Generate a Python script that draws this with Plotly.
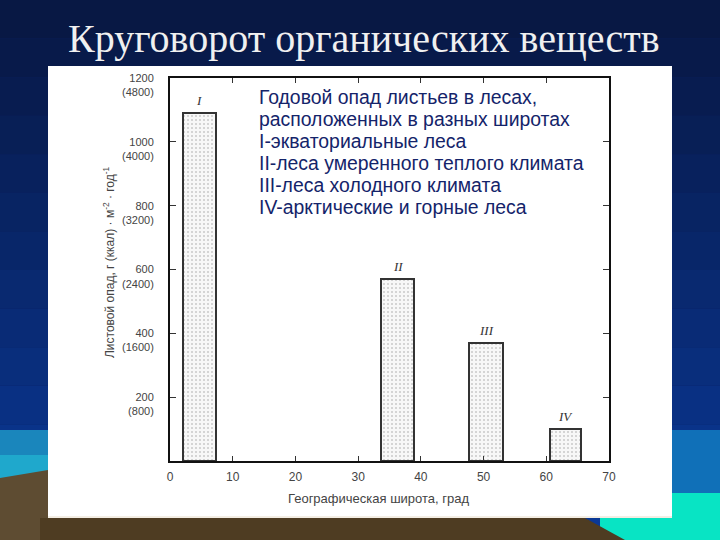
import plotly.graph_objects as go

# ---- data ----
zones = ["I", "II", "III", "IV"]
latitude_center = [4.7, 36.3, 50.4, 63.1]
litterfall = [1090, 570, 370, 100]
bar_width = [5.2, 5.2, 5.3, 5.0]

y_tickvals = [200, 400, 600, 800, 1000, 1200]
y_ticktext = [" <br>200<br>(800)", " <br>400<br>(1600)", " <br>600<br>(2400)",
              " <br>800<br>(3200)", " <br>1000<br>(4000)", " <br>1200<br>(4800)"]
x_tickvals = [0, 10, 20, 30, 40, 50, 60, 70]

title_text = "Круговорот органических веществ"
legend_lines = [
    "Годовой опад листьев в лесах,",
    "расположенных в разных широтах",
    "I-экваториальные леса",
    "II-леса умеренного теплого климата",
    "III-леса холодного климата",
    "IV-арктические и горные леса",
]
y_title = "Листовой опад, г (ккал) · м<sup>-2</sup> · год<sup>-1</sup>"
x_title = "Географическая широта, град"

W, H = 720, 540
def px(x):
    return x / W
def py(y):
    return 1 - y / H

fig = go.Figure()
fig.add_trace(go.Bar(
    x=latitude_center, y=litterfall, width=bar_width,
    marker=dict(color="#f4f4f4",
                line=dict(color="#333333", width=2),
                pattern=dict(shape=".", fgcolor="#999999", bgcolor="#f8f8f8",
                             size=4, solidity=0.2)),
    showlegend=False, hoverinfo="skip",
))

shapes = []
top_c = (8, 24, 68)
bot_c = (10, 56, 150)
n = 14
for i in range(n):
    t = i / (n - 1)
    c = tuple(int(top_c[k] + (bot_c[k] - top_c[k]) * t) for k in range(3))
    shapes.append(dict(type="rect", xref="paper", yref="paper", layer="below",
                       x0=0, x1=1, y0=py(H * (i + 1) / n), y1=py(H * i / n),
                       fillcolor="rgb(%d,%d,%d)" % c, line=dict(width=0)))
shapes.append(dict(type="rect", xref="paper", yref="paper", layer="below",
                   x0=0, x1=px(60), y0=py(480), y1=py(430),
                   fillcolor="#1a86bc", line=dict(width=0)))
shapes.append(dict(type="rect", xref="paper", yref="paper", layer="below",
                   x0=0, x1=px(60), y0=py(480), y1=py(455),
                   fillcolor="#1fa8cc", line=dict(width=0)))
shapes.append(dict(type="path", xref="paper", yref="paper", layer="below",
                   path="M 0 %f L %f %f L %f 0 L 0 0 Z" % (py(478), px(60), py(468), px(60)),
                   fillcolor="#5e4c32", line=dict(width=0)))
shapes.append(dict(type="rect", xref="paper", yref="paper", layer="below",
                   x0=px(600), x1=1, y0=0, y1=py(493),
                   fillcolor="#08e4c4", line=dict(width=0)))
shapes.append(dict(type="rect", xref="paper", yref="paper", layer="below",
                   x0=px(600), x1=1, y0=py(493), y1=py(430),
                   fillcolor="#1070b8", line=dict(width=0)))
shapes.append(dict(type="path", xref="paper", yref="paper", layer="below",
                   path="M %f 0 L %f %f L %f %f L %f 0 Z" % (px(40), px(40), py(518), px(585), py(518), px(625)),
                   fillcolor="#4e3c22", line=dict(width=0)))
shapes.append(dict(type="rect", xref="paper", yref="paper", layer="below",
                   x0=px(48), x1=px(672), y0=py(518), y1=py(66),
                   fillcolor="#ffffff", line=dict(width=0)))
shapes.append(dict(type="line", xref="paper", yref="paper", layer="below",
                   x0=px(48), x1=px(672), y0=py(517), y1=py(517),
                   line=dict(color="#e8dcc8", width=1)))

annotations = []
annotations.append(dict(text=title_text, xref="paper", yref="paper",
                        x=px(364), y=py(38), xanchor="center", yanchor="middle", showarrow=False,
                        font=dict(family="Liberation Serif", size=40, color="#f0f0f0")))
line_y = [97, 119, 141, 163, 185, 207]
for ln, yy in zip(legend_lines, line_y):
    annotations.append(dict(text=ln, xref="paper", yref="paper",
                            x=px(257), y=py(yy), xanchor="left", yanchor="middle",
                            showarrow=False,
                            font=dict(family="Liberation Sans", size=19.4, color="#14246a")))
annotations.append(dict(text=y_title, xref="paper", yref="paper", textangle=-90,
                        x=px(109), y=py(262), xanchor="center", yanchor="middle", showarrow=False,
                        font=dict(family="Liberation Sans", size=12, color="#444444")))
annotations.append(dict(text=x_title, xref="paper", yref="paper",
                        x=px(286), y=py(498), xanchor="left", yanchor="middle", showarrow=False,
                        font=dict(family="Liberation Sans", size=13, color="#444444")))
for z, xc, v in zip(zones, latitude_center, litterfall):
    annotations.append(dict(text="<i>%s</i>" % z, x=xc, y=v, xref="x", yref="y",
                            yanchor="bottom", yshift=3, showarrow=False,
                            font=dict(family="Liberation Serif", size=13, color="#333333")))

fig.update_layout(
    width=W, height=H,
    margin=dict(l=0, r=0, t=0, b=0, autoexpand=False),
    paper_bgcolor="#0b1f5c",
    plot_bgcolor="rgba(0,0,0,0)",
    shapes=shapes,
    annotations=annotations,
    bargap=0,
    xaxis=dict(domain=[px(170), px(609)], range=[0, 70], tickvals=x_tickvals,
               showline=True, linecolor="#111111", linewidth=2, mirror="ticks",
               ticks="inside", ticklen=5, tickcolor="#333333", showgrid=False,
               zeroline=False, automargin=False, ticklabelstandoff=4,
               tickfont=dict(family="Liberation Sans", size=12, color="#444444")),
    yaxis=dict(domain=[py(461), py(78)], range=[0, 1200], tickvals=y_tickvals,
               ticktext=y_ticktext,
               showline=True, linecolor="#111111", linewidth=2, mirror="ticks",
               ticks="inside", ticklen=6, tickcolor="#333333", showgrid=False,
               zeroline=False, automargin=False, ticklabelstandoff=12,
               tickfont=dict(family="Liberation Sans", size=11, color="#444444")),
)

fig.write_html("out.html", config={"displayModeBar": False},
               post_script="document.body.style.margin='0';document.body.style.overflow='hidden';")
